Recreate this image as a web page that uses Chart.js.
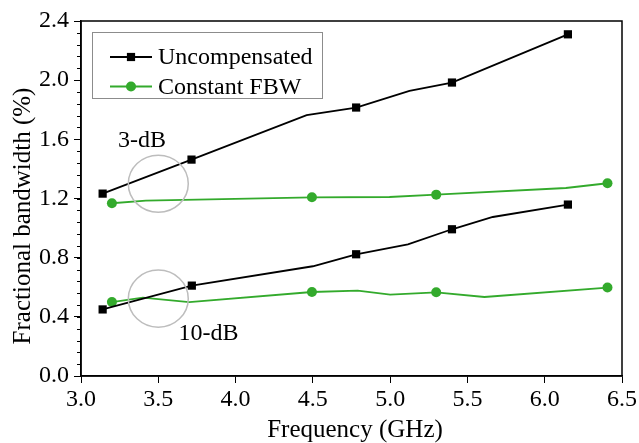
<!DOCTYPE html>
<html>
<head>
<meta charset="utf-8">
<script src="https://cdn.jsdelivr.net/npm/chart.js@4.4.0/dist/chart.umd.min.js"></script>
<style>
  html, body { margin: 0; padding: 0; background: #fff; }
  #wrap { width: 639px; height: 443px; }
</style>
</head>
<body>
<div id="wrap"><canvas id="fbw" width="639" height="443"></canvas></div>
<script>
// 3-dB fractional bandwidth
var freq3dbUncomp = [3.14, 3.715, 4.46, 4.78, 5.125, 5.40, 6.15];
var bw3dbUncomp   = [1.233, 1.463, 1.763, 1.815, 1.927, 1.984, 2.31];
var mark3dbUncomp = [true, true, false, true, false, true, true];

var freq3dbConst = [3.20, 3.42, 4.494, 4.996, 5.298, 6.137, 6.406];
var bw3dbConst   = [1.168, 1.186, 1.208, 1.21, 1.226, 1.271, 1.303];
var mark3dbConst = [true, false, true, false, true, false, true];

// 10-dB fractional bandwidth
var freq10dbUncomp = [3.14, 3.717, 4.50, 4.78, 5.115, 5.40, 5.664, 6.15];
var bw10dbUncomp   = [0.45, 0.611, 0.742, 0.823, 0.890, 0.992, 1.075, 1.159];
var mark10dbUncomp = [true, true, false, true, false, true, false, true];

var freq10dbConst = [3.20, 3.40, 3.70, 4.494, 4.79, 5.0, 5.298, 5.61, 6.406];
var bw10dbConst   = [0.50, 0.53, 0.50, 0.568, 0.577, 0.55, 0.566, 0.534, 0.598];
var mark10dbConst = [true, false, false, true, false, false, true, false, true];

var xTicks = [3.0, 3.5, 4.0, 4.5, 5.0, 5.5, 6.0, 6.5];
var yTicks = [0.0, 0.4, 0.8, 1.2, 1.6, 2.0, 2.4];

var seriesNames = ['Uncompensated', 'Constant FBW'];
// band markers: label, circle centre (GHz, %), label position (GHz, %)
var bandLabels = ['3-dB', '10-dB'];
var bandCenters = [[3.5, 1.30], [3.5, 0.523]];
var bandTextAt = [[3.395, 1.59], [3.825, 0.283]];

var BLACK = '#000000';
var GREEN = '#33aa2c';
var FONT = '"Liberation Serif", "Times New Roman", serif';

function pts(xs, ys) {
  return xs.map(function (x, i) { return { x: x, y: ys[i] }; });
}

function series(xs, ys, marks, color, shape, r) {
  return {
    data: pts(xs, ys),
    showLine: true,
    borderColor: color,
    backgroundColor: color,
    borderWidth: 1.8,
    pointStyle: shape,
    pointRadius: marks.map(function (m) { return m ? r : 0; }),
    pointHoverRadius: 0,
    pointBorderWidth: 0,
    tension: 0
  };
}

var datasets = [
  series(freq3dbUncomp, bw3dbUncomp, mark3dbUncomp, BLACK, 'rect', 5.8),
  series(freq3dbConst, bw3dbConst, mark3dbConst, GREEN, 'circle', 5),
  series(freq10dbUncomp, bw10dbUncomp, mark10dbUncomp, BLACK, 'rect', 5.8),
  series(freq10dbConst, bw10dbConst, mark10dbConst, GREEN, 'circle', 5)
];

// frame, minor ticks, titles, legend and band annotations
var decorations = {
  id: 'decorations',
  afterDraw: function (chart) {
    var ctx = chart.ctx;
    var a = chart.chartArea;
    var xs = chart.scales.x, ys = chart.scales.y;
    ctx.save();

    ctx.strokeStyle = BLACK;
    ctx.lineWidth = 1.5;
    ctx.strokeRect(a.left, a.top, a.right - a.left, a.bottom - a.top);

    // y minor ticks
    ctx.lineWidth = 1;
    for (var v = 0; v <= 2.4001; v += 0.08) {
      var py = Math.round(ys.getPixelForValue(v)) + 0.5;
      ctx.beginPath();
      ctx.moveTo(a.left, py);
      ctx.lineTo(a.left - 4, py);
      ctx.stroke();
    }

    // axis titles
    ctx.fillStyle = BLACK;
    ctx.font = '25px ' + FONT;
    ctx.textAlign = 'center';
    ctx.textBaseline = 'alphabetic';
    ctx.fillText('Frequency (GHz)', 355, 436.5);
    ctx.save();
    ctx.translate(30, 216);
    ctx.rotate(-Math.PI / 2);
    ctx.fillText('Fractional bandwidth (%)', 0, 0);
    ctx.restore();

    // band circles and labels
    ctx.strokeStyle = '#bdbdbd';
    ctx.lineWidth = 1.5;
    ctx.font = '24px ' + FONT;
    bandLabels.forEach(function (lbl, i) {
      var cx = xs.getPixelForValue(bandCenters[i][0]);
      var cy = ys.getPixelForValue(bandCenters[i][1]);
      var rx = xs.getPixelForValue(3.5 + 0.194) - xs.getPixelForValue(3.5);
      var ry = ys.getPixelForValue(0) - ys.getPixelForValue(0.193);
      ctx.beginPath();
      ctx.ellipse(cx, cy, rx, ry, 0, 0, Math.PI * 2);
      ctx.stroke();
      ctx.textAlign = 'center';
      ctx.textBaseline = 'middle';
      ctx.fillText(lbl, xs.getPixelForValue(bandTextAt[i][0]), ys.getPixelForValue(bandTextAt[i][1]));
    });

    // legend
    var lx = 92, ly = 32, lw = 230, lh = 66;
    ctx.strokeStyle = '#8c8c8c';
    ctx.lineWidth = 1;
    ctx.strokeRect(lx + 0.5, ly + 0.5, lw, lh);
    var rows = [[BLACK, 'rect'], [GREEN, 'circle']];
    rows.forEach(function (row, i) {
      var yy = 57 + i * 29.5;
      ctx.strokeStyle = row[0];
      ctx.fillStyle = row[0];
      ctx.lineWidth = 1.8;
      ctx.beginPath();
      ctx.moveTo(110, yy);
      ctx.lineTo(152, yy);
      ctx.stroke();
      if (row[1] === 'rect') {
        ctx.fillRect(131 - 4.1, yy - 4.1, 8.2, 8.2);
      } else {
        ctx.beginPath();
        ctx.arc(131, yy, 5, 0, Math.PI * 2);
        ctx.fill();
      }
      ctx.fillStyle = BLACK;
      ctx.textAlign = 'left';
      ctx.textBaseline = 'middle';
      ctx.fillText(seriesNames[i], 158, yy + 1);
    });

    ctx.restore();
  }
};

new Chart(document.getElementById('fbw'), {
  type: 'scatter',
  data: { datasets: datasets },
  options: {
    responsive: false,
    animation: false,
    layout: { padding: { top: 21, right: 16, left: 0, bottom: 0 } },
    plugins: { legend: { display: false }, tooltip: { enabled: false } },
    scales: {
      x: {
        type: 'linear',
        min: 3.0,
        max: 6.5,
        afterBuildTicks: function (s) { s.ticks = xTicks.map(function (v) { return { value: v }; }); },
        afterFit: function (s) { s.height = 67; },
        ticks: {
          color: BLACK,
          font: { family: FONT, size: 24 },
          padding: 2,
          maxRotation: 0,
          callback: function (v) { return v.toFixed(1); }
        },
        grid: { drawOnChartArea: false, drawTicks: true, tickLength: 7, color: BLACK, lineWidth: 1 },
        border: { display: true, color: BLACK, width: 1.5 }
      },
      y: {
        type: 'linear',
        min: 0,
        max: 2.4,
        afterBuildTicks: function (s) { s.ticks = yTicks.map(function (v) { return { value: v }; }); },
        afterFit: function (s) { s.width = 81; },
        ticks: {
          color: BLACK,
          font: { family: FONT, size: 24 },
          padding: 5,
          callback: function (v) { return v.toFixed(1); }
        },
        grid: { drawOnChartArea: false, drawTicks: true, tickLength: 7, color: BLACK, lineWidth: 1 },
        border: { display: true, color: BLACK, width: 1.5 }
      }
    }
  },
  plugins: [decorations]
});
</script>
</body>
</html>
